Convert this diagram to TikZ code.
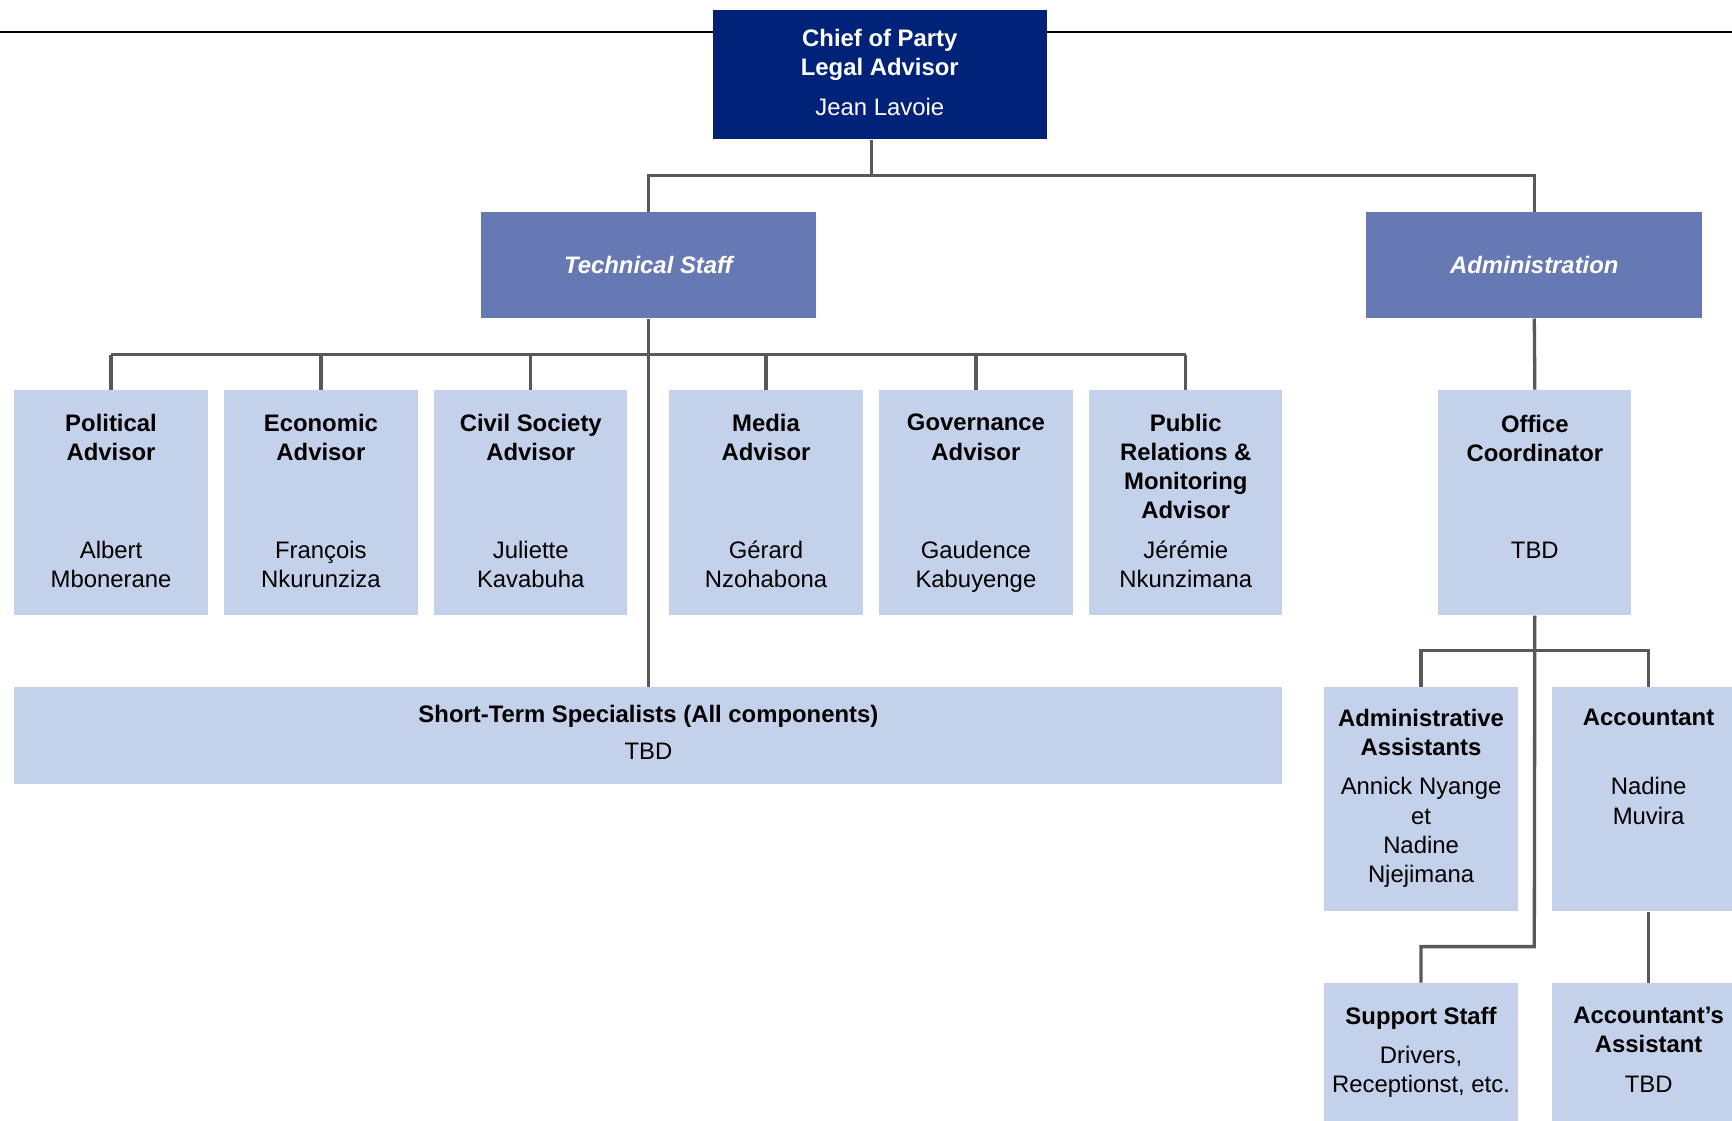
\documentclass[tikz,border=0pt]{standalone}
\usepackage{fontspec}
\setmainfont{Liberation Sans}
\usetikzlibrary{positioning}
\definecolor{navy}{HTML}{002279}
\definecolor{midblue}{HTML}{6679B3}
\definecolor{paleblue}{HTML}{C4D1EA}
\definecolor{linegray}{HTML}{595959}

\begin{document}
\begin{tikzpicture}[x=0.02cm, y=-0.02cm,
  every node/.style={font=\fontsize{12.3}{15}\selectfont, align=center, inner sep=0pt},
  chiefbox/.style={fill=navy, minimum width=6.06cm, minimum height=2.34cm},
  groupbox/.style={fill=midblue, text=white, minimum width=6.08cm, minimum height=1.92cm, font=\fontsize{12.3}{15}\selectfont\bfseries\itshape},
  unitbox/.style={fill=paleblue, minimum width=3.5cm, minimum height=4.08cm},
  headtext/.style={font=\fontsize{12.3}{15}\selectfont\bfseries},
  nametext/.style={},
  link/.style={draw=linegray, line width=1.7pt},
]

\useasboundingbox (0,0) rectangle (1568,1014);
\clip (0,0) rectangle (1568,1014);

% Rule across the top
\coordinate (rule-l) at (0,29);
\coordinate (rule-r) at (1568,29);
\draw[line width=1.2pt] (rule-l) -- (rule-r);

% Chief of party
\node[chiefbox] (chief) at (796.5,67.5) {};
\node[headtext, text=white, below=0.34cm of chief.north] (chief-head) {Chief of Party\\Legal Advisor};
\node[nametext, text=white, below=1.6cm of chief.north] (chief-name) {Jean Lavoie};

% Two groups
\node[groupbox] (tech) at (587,240) {Technical Staff};
\node[groupbox] (admin) at (1389,240) {Administration};

% Technical advisors
\node[unitbox] (pol) at (100.5,455) {};
\node[headtext, below=0.44cm of pol.north] (pol-head) {Political\\Advisor};
\node[nametext, below=2.74cm of pol.north] (pol-name) {Albert\\Mbonerane};

\node[unitbox] (eco) at (290.5,455) {};
\node[headtext, below=0.44cm of eco.north] (eco-head) {Economic\\Advisor};
\node[nametext, below=2.74cm of eco.north] (eco-name) {François\\Nkurunziza};

\node[unitbox] (civ) at (480.5,455) {};
\node[headtext, below=0.44cm of civ.north] (civ-head) {Civil Society\\Advisor};
\node[nametext, below=2.74cm of civ.north] (civ-name) {Juliette\\Kavabuha};

\node[unitbox] (med) at (693.5,455) {};
\node[headtext, below=0.44cm of med.north] (med-head) {Media\\Advisor};
\node[nametext, below=2.74cm of med.north] (med-name) {Gérard\\Nzohabona};

\node[unitbox] (gov) at (883.5,455) {};
\node[headtext, below=0.44cm of gov.north] (gov-head) {Governance\\Advisor};
\node[nametext, below=2.74cm of gov.north] (gov-name) {Gaudence\\Kabuyenge};

\node[unitbox] (pra) at (1073.5,455) {};
\node[headtext, below=0.44cm of pra.north] (pra-head) {Public\\Relations \&\\Monitoring\\Advisor};
\node[nametext, below=2.74cm of pra.north] (pra-name) {Jérémie\\Nkunzimana};

% Short-term specialists
\node[unitbox, minimum width=22.96cm, minimum height=1.76cm] (short) at (587,666) {};
\node[headtext, below=0.32cm of short.north] (short-head) {Short-Term Specialists (All components)};
\node[nametext, below=1.02cm of short.north] (short-name) {TBD};

% Administration side
\node[unitbox] (office) at (1389.5,455) {};
\node[headtext, below=0.46cm of office.north] (office-head) {Office\\Coordinator};
\node[nametext, below=2.76cm of office.north] (office-name) {TBD};

\node[unitbox, minimum height=4.06cm] (asst) at (1286.5,723.5) {};
\node[headtext, below=0.4cm of asst.north] (asst-head) {Administrative\\Assistants};
\node[nametext, below=1.64cm of asst.north] (asst-name) {Annick Nyange\\et\\Nadine\\Njejimana};

\node[unitbox, minimum height=4.06cm] (acct) at (1492.5,723.5) {};
\node[headtext, below=0.4cm of acct.north] (acct-head) {Accountant};
\node[nametext, below=1.64cm of acct.north] (acct-name) {Nadine\\Muvira};

\node[unitbox, minimum height=2.6cm] (support) at (1286.5,955) {};
\node[headtext, below=0.44cm of support.north] (support-head) {Support Staff};
\node[nametext, below=1.14cm of support.north] (support-name) {Drivers,\\Receptionst, etc.};

\node[unitbox, minimum height=2.6cm] (accasst) at (1492.5,955) {};
\node[headtext, below=0.44cm of accasst.north] (accasst-head) {Accountant’s\\Assistant};
\node[nametext, below=1.68cm of accasst.north] (accasst-name) {TBD};

% Connectors
\coordinate (cp-bus) at (789,159);
\coordinate (tech-bus) at (587,321);
\coordinate (office-bus) at (1389,589);
\coordinate (support-bus) at (1389,857);

\draw[link] (cp-bus |- chief.south) -- (cp-bus);
\draw[link] (tech.north) -- (tech.north |- cp-bus) -- (admin.north |- cp-bus) -- (admin.north);

\draw[link] (tech.south) -- (short.north);
\draw[link] (pol.north |- tech-bus) -- (pra.north |- tech-bus);
\foreach \u in {pol,eco,civ,med,gov,pra}
  \draw[link] (\u.north) -- (\u.north |- tech-bus);

\draw[link] (admin.south) -- (office.north);
\draw[link] (office.south) -- (support-bus) -| (support.north);
\draw[link] (asst.north) |- (office-bus) -| (acct.north);
\draw[link] (acct.south) -- (accasst.north);

\end{tikzpicture}
\end{document}
